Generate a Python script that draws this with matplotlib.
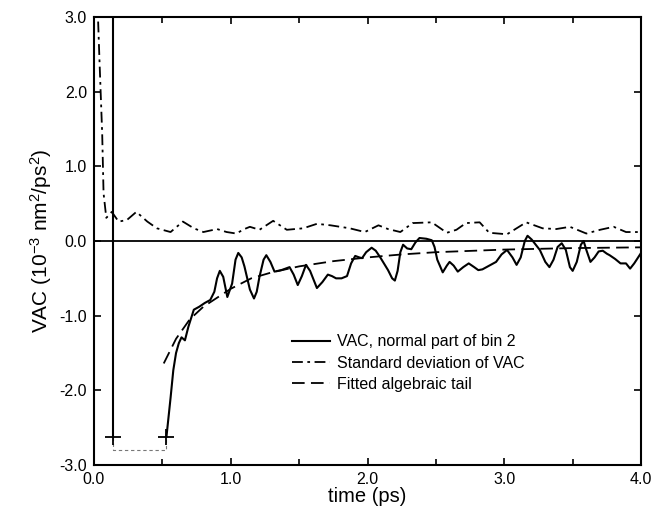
import matplotlib
matplotlib.use("Agg")
import matplotlib.pyplot as plt
from matplotlib.ticker import MultipleLocator, FormatStrFormatter

plt.rcParams['font.family'] = ['Liberation Sans', 'DejaVu Sans']
plt.rcParams['mathtext.default'] = 'regular'
plt.rcParams['axes.unicode_minus'] = False

# VAC, normal part of bin 2 (first part: spike down at t=0.14)
vac_spike_t = [0.14, 0.14]
vac_spike_v = [3.5, -2.62]

vac_t = [0.53, 0.56, 0.58, 0.60, 0.62, 0.64, 0.665, 0.69, 0.73, 0.77, 0.81, 0.85, 0.88, 0.90,
         0.92, 0.945, 0.975, 1.01, 1.035, 1.055, 1.08, 1.10, 1.14, 1.17, 1.19, 1.21, 1.24,
         1.26, 1.29, 1.32, 1.37, 1.43, 1.46, 1.49, 1.52, 1.55, 1.58, 1.63, 1.67, 1.71,
         1.74, 1.77, 1.81, 1.85, 1.88, 1.91, 1.94, 1.96, 1.99, 2.03, 2.06, 2.09, 2.12,
         2.15, 2.18, 2.20, 2.22, 2.24, 2.26, 2.29, 2.32, 2.35, 2.38, 2.43, 2.47, 2.49,
         2.51, 2.55, 2.58, 2.60, 2.63, 2.66, 2.70, 2.74, 2.78, 2.81, 2.84, 2.87, 2.91,
         2.94, 2.98, 3.02, 3.06, 3.09, 3.12, 3.15, 3.17, 3.20, 3.23, 3.26, 3.30, 3.33,
         3.36, 3.39, 3.42, 3.45, 3.48, 3.50, 3.53, 3.56, 3.58, 3.60, 3.63, 3.66, 3.69,
         3.72, 3.75, 3.77, 3.81, 3.85, 3.89, 3.92, 3.95, 4.00]
vac_v = [-2.62, -2.10, -1.73, -1.50, -1.37, -1.29, -1.33, -1.15, -0.92, -0.88, -0.83, -0.79, -0.68, -0.50,
         -0.40, -0.48, -0.75, -0.57, -0.25, -0.16, -0.22, -0.34, -0.65, -0.77, -0.68, -0.48, -0.25,
         -0.19, -0.28, -0.41, -0.39, -0.35, -0.45, -0.59, -0.47, -0.32, -0.40, -0.63, -0.55, -0.45,
         -0.47, -0.50, -0.50, -0.47, -0.30, -0.20, -0.22, -0.23, -0.15, -0.09, -0.13, -0.21, -0.30,
         -0.39, -0.50, -0.53, -0.40, -0.15, -0.05, -0.10, -0.11, -0.02, 0.04, 0.03, 0.01, -0.08,
         -0.25, -0.42, -0.33, -0.28, -0.33, -0.41, -0.35, -0.30, -0.35, -0.39, -0.38, -0.35, -0.31,
         -0.28, -0.18, -0.12, -0.22, -0.32, -0.22, 0.00, 0.07, 0.02, -0.05, -0.12, -0.28, -0.35,
         -0.25, -0.08, -0.03, -0.12, -0.35, -0.40, -0.28, -0.05, 0.00, -0.12, -0.28, -0.22, -0.14,
         -0.13, -0.17, -0.19, -0.24, -0.30, -0.30, -0.37, -0.30, -0.16]

# Standard deviation of VAC
std_t = [0.02, 0.03, 0.04, 0.06, 0.07, 0.09, 0.13, 0.18, 0.24, 0.31, 0.39, 0.46, 0.56,
         0.65, 0.73, 0.80, 0.90, 0.97, 1.04, 1.10, 1.14, 1.21, 1.31, 1.41, 1.53, 1.63,
         1.73, 1.87, 1.98, 2.08, 2.15, 2.24, 2.33, 2.47, 2.58, 2.65, 2.72, 2.82, 2.89,
         3.02, 3.16, 3.28, 3.38, 3.48, 3.60, 3.70, 3.80, 3.89, 4.00]
std_v = [3.5, 2.96, 2.43, 1.44, 0.64, 0.31, 0.39, 0.26, 0.28, 0.39, 0.26, 0.17, 0.12,
         0.26, 0.17, 0.12, 0.16, 0.12, 0.10, 0.16, 0.19, 0.15, 0.27, 0.15, 0.17, 0.23,
         0.21, 0.17, 0.12, 0.21, 0.16, 0.12, 0.24, 0.25, 0.11, 0.15, 0.24, 0.25, 0.11,
         0.09, 0.25, 0.17, 0.16, 0.19, 0.10, 0.15, 0.19, 0.12, 0.12]

# Fitted algebraic tail
fit_t = [0.51, 0.60, 0.70, 0.80, 0.90, 1.00, 1.15, 1.30, 1.50, 1.75, 2.00, 2.25,
         2.50, 3.00, 3.50, 4.00]
fit_v = [-1.64, -1.31, -1.05, -0.88, -0.76, -0.64, -0.50, -0.42, -0.34, -0.27, -0.22, -0.18,
         -0.15, -0.115, -0.095, -0.085]

# gap (dashed box) between the two solid parts
gap_t = [0.14, 0.14, 0.53, 0.53]
gap_v = [-2.62, -2.80, -2.80, -2.62]

fig = plt.figure(figsize=(6.54, 5.08), dpi=100)
ax = fig.add_axes([0.1437, 0.0846, 0.8365, 0.882])

ax.axhline(0.0, color='black', lw=1.3)
ax.plot(vac_spike_t, vac_spike_v, color='black', lw=1.5, label='VAC, normal part of bin 2')
ax.plot(vac_t, vac_v, color='black', lw=1.5, solid_joinstyle='round')
ax.plot(std_t, std_v, color='black', lw=1.3, dashes=(6, 2.5, 1.5, 2.5),
        label='Standard deviation of VAC')
ax.plot(fit_t, fit_v, color='black', lw=1.3, dashes=(7, 3.5), label='Fitted algebraic tail')
ax.plot(gap_t, gap_v, color='#777777', lw=0.8, dashes=(3, 2.5))
ax.plot([0.14, 0.53], [-2.62, -2.62], ls='none', marker='+', ms=11, mew=1.3, color='black')

ax.set_xlim(0, 4)
ax.set_ylim(-3, 3)
ax.xaxis.set_major_locator(MultipleLocator(1.0))
ax.xaxis.set_minor_locator(MultipleLocator(0.5))
ax.yaxis.set_major_locator(MultipleLocator(1.0))
ax.xaxis.set_major_formatter(FormatStrFormatter('%.1f'))
ax.yaxis.set_major_formatter(FormatStrFormatter('%.1f'))
ax.tick_params(which='both', direction='in', top=True, right=True, labelsize=11.5,
               width=1.2, pad=5)
ax.tick_params(which='major', length=5)
ax.tick_params(which='minor', length=4)
for s in ax.spines.values():
    s.set_linewidth(1.5)

ax.set_xlabel('time (ps)', fontsize=14.5, labelpad=0)
ax.set_ylabel('VAC (10$^{-3}$ nm$^2$/ps$^2$)', fontsize=15, labelpad=4)

ax.legend(loc='upper left', bbox_to_anchor=(0.347, 0.31), frameon=False, fontsize=11.5,
          handlelength=2.4, handletextpad=0.4, labelspacing=0.4, borderpad=0)

fig.savefig('out.png', dpi=100)
